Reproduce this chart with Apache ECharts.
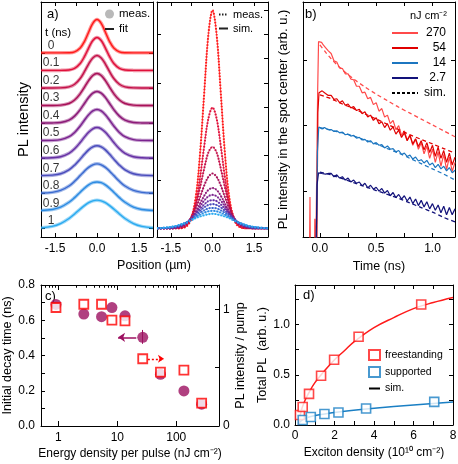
<!DOCTYPE html>
<html><head><meta charset="utf-8">
<script src="https://cdn.jsdelivr.net/npm/echarts@6/dist/echarts.min.js"></script>
<style>html,body{margin:0;padding:0;background:#fff}#c{width:458px;height:464px}</style>
</head><body><div id="c"></div>
<script>
// ---------- DATA ----------
// panel a: time labels, colours, half-profiles (|x| grid, units = baseline spacing)
const timeLabels = ['0','0.1','0.2','0.3','0.4','0.5','0.6','0.7','0.8','0.9','1'];
const curveColors = ['#ff1a1a','#e0103a','#c41048','#a81058','#8c1a78','#7a228e','#6630a4','#4a4cbc','#3a6ad0','#2a8ae2','#2aaaf0'];
const halfX = [0,0.15,0.3,0.45,0.6,0.8,1.0,1.3,1.6,2.0];
const fitA = [
 [1.90,1.685,1.174,0.644,0.277,0.062,0.009,0,0,0],
 [1.88,1.705,1.273,0.782,0.395,0.118,0.025,0.001,0,0],
 [1.85,1.713,1.360,0.925,0.540,0.207,0.060,0.006,0,0],
 [1.82,1.711,1.418,1.037,0.672,0.309,0.114,0.017,0.001,0],
 [1.80,1.706,1.453,1.112,0.765,0.393,0.167,0.032,0.004,0],
 [1.77,1.689,1.466,1.158,0.832,0.462,0.218,0.051,0.008,0],
 [1.74,1.669,1.472,1.194,0.889,0.529,0.270,0.075,0.015,0.001],
 [1.70,1.639,1.467,1.219,0.942,0.595,0.330,0.106,0.026,0.002],
 [1.67,1.618,1.470,1.254,1.004,0.676,0.406,0.154,0.045,0.006],
 [1.64,1.596,1.468,1.278,1.053,0.746,0.479,0.205,0.071,0.012],
 [1.60,1.562,1.454,1.291,1.094,0.814,0.557,0.269,0.107,0.023]
];
// panel a (right): unnormalised profiles
const simMid = [
 [4.50,3.99,2.78,1.53,0.66,0.15,0.02,0,0,0],
 [2.49,2.26,1.69,1.04,0.52,0.16,0.03,0,0,0],
 [1.68,1.56,1.23,0.84,0.49,0.19,0.05,0.01,0,0],
 [1.13,1.06,0.88,0.64,0.42,0.19,0.07,0.01,0,0],
 [0.83,0.79,0.67,0.51,0.35,0.18,0.08,0.01,0,0],
 [0.69,0.66,0.57,0.45,0.32,0.18,0.08,0.02,0,0],
 [0.58,0.56,0.49,0.40,0.30,0.18,0.09,0.02,0,0],
 [0.50,0.48,0.43,0.36,0.28,0.18,0.10,0.03,0.01,0],
 [0.42,0.41,0.37,0.32,0.25,0.17,0.10,0.04,0.01,0],
 [0.36,0.35,0.32,0.28,0.23,0.16,0.11,0.05,0.02,0],
 [0.30,0.29,0.27,0.24,0.21,0.15,0.10,0.05,0.02,0]
];
// panel b: log10 of PL intensity
const bGrid = [0.1,0.125,0.15,0.175,0.2,0.225,0.25,0.275,0.3,0.325,0.35,0.375,0.4,0.425,0.45,0.475,0.5,0.525,0.55,0.575,0.6,0.625,0.65,0.675,0.7,0.725,0.75,0.775,0.8,0.825,0.85,0.875,0.9,0.925,0.95,0.975,1.0,1.025,1.05,1.075,1.1,1.125,1.15,1.175,1.2];
const bLabels = ['270','54','14','2.7'];
const bColors = ['#ff4a4a','#e00000','#1c76c0','#12127a'];
const bRiseT = [
 [-0.15,-0.095,-0.088,-0.082,-0.05,-0.045,-0.04,-0.03,-0.02,-0.012,0.0,0.015,0.03,0.05,0.075],
 [-0.15,-0.03,-0.018,-0.008,0.005,0.02,0.035,0.05,0.075],
 [-0.15,-0.035,-0.022,-0.01,0.005,0.02,0.04,0.06,0.08],
 [-0.15,-0.04,-0.025,-0.012,0.0,0.015,0.03,0.05,0.075]
];
const bRiseL = [
 [-1.5,-1.5,-0.09,-1.5,-1.5,-0.42,-1.5,-1.5,1.5,2.28,2.30,2.27,2.23,2.19,2.14],
 [-1.5,-1.5,1.2,1.50,1.47,1.53,1.50,1.49,1.46],
 [-1.5,-1.5,0.6,0.98,0.99,0.95,0.97,0.95,0.94],
 [-1.5,-1.5,0.1,0.28,0.30,0.27,0.29,0.26,0.27]
];
const bMeasL = [
 [2.10,1.99,1.97,1.88,1.87,1.79,1.79,1.71,1.70,1.60,1.60,1.50,1.51,1.41,1.43,1.32,1.35,1.22,1.26,1.13,1.16,1.03,1.08,0.94,1.00,0.85,0.92,0.78,0.86,0.70,0.79,0.64,0.74,0.57,0.69,0.50,0.64,0.44,0.60,0.38,0.56,0.33,0.52,0.30,0.44],
 [1.46,1.40,1.41,1.35,1.38,1.31,1.33,1.27,1.29,1.23,1.25,1.18,1.21,1.13,1.16,1.08,1.12,1.03,1.06,0.97,1.03,0.93,0.98,0.87,0.93,0.82,0.89,0.77,0.85,0.72,0.80,0.68,0.77,0.63,0.74,0.59,0.70,0.53,0.67,0.50,0.62,0.44,0.58,0.40,0.52],
 [0.94,0.91,0.92,0.89,0.90,0.86,0.87,0.84,0.85,0.81,0.82,0.78,0.79,0.75,0.77,0.72,0.74,0.70,0.71,0.66,0.69,0.64,0.65,0.60,0.62,0.56,0.58,0.53,0.55,0.49,0.52,0.46,0.48,0.43,0.47,0.40,0.43,0.36,0.41,0.34,0.38,0.31,0.36,0.28,0.32],
 [0.27,0.22,0.25,0.20,0.22,0.17,0.20,0.14,0.17,0.12,0.14,0.08,0.12,0.05,0.09,0.03,0.06,0.00,0.04,-0.03,0.01,-0.07,-0.02,-0.10,-0.05,-0.12,-0.07,-0.15,-0.09,-0.19,-0.12,-0.22,-0.14,-0.24,-0.16,-0.27,-0.19,-0.29,-0.21,-0.33,-0.23,-0.36,-0.25,-0.36,-0.27]
];
const bSimT = [0,0.05,0.1,0.15,0.2,0.3,0.4,0.5,0.6,0.7,0.8,0.9,1.0,1.1,1.2];
const bSimL = [
 [2.23,2.12,2.02,1.93,1.85,1.71,1.59,1.48,1.38,1.28,1.19,1.10,1.01,0.92,0.83],
 [1.47,1.44,1.41,1.37,1.33,1.26,1.18,1.10,1.02,0.94,0.86,0.79,0.72,0.65,0.58],
 [0.97,0.95,0.93,0.91,0.89,0.84,0.78,0.72,0.65,0.58,0.50,0.42,0.34,0.26,0.17],
 [0.29,0.27,0.25,0.22,0.19,0.13,0.07,0.01,-0.05,-0.11,-0.18,-0.25,-0.32,-0.40,-0.47]
];
// panel c
const cEnergy = [0.91,2.7,5.4,8.1,13.5,27,54,135,270];
const cDecay  = [0.69,0.635,0.62,0.672,0.625,0.503,0.293,0.199,0.124];
const cPLpump = [1.017,1.045,1.045,0.908,0.902,0.577,0.463,0.48,0.197];
const cMajorLabels = [1,10,100];
const cMinorTicks = [0.6,0.7,0.8,0.9,2,3,4,5,6,7,8,9,20,30,40,50,60,70,80,90,200,300,400,500];
// panel d
const dFreeX = [0.25,0.39,0.71,1.32,1.98,3.22,6.39];
const dFreeY = [0.10,0.18,0.31,0.49,0.65,0.88,1.20];
const dSupX  = [0.39,0.8,1.49,2.2,3.6,7.05];
const dSupY  = [0.05,0.08,0.11,0.125,0.165,0.23];
const dSimFreeX = [0.18,0.3,0.45,0.7,1,1.5,2,2.5,3,4,5,6,7,8];
const dSimFreeY = [0,0.13,0.22,0.32,0.42,0.54,0.65,0.74,0.83,0.97,1.07,1.16,1.22,1.27];
const dSimSupX = [0.2,0.4,0.8,1.5,2.2,3.6,5,7,8];
const dSimSupY = [0.02,0.055,0.085,0.11,0.13,0.16,0.185,0.215,0.23];

// ---------- BUILD ----------
const FONT = '"Liberation Sans", Arial, Helvetica, sans-serif';
const posX = halfX.slice(1).reverse().map(v => -v).concat(halfX);
const mirror = h => h.slice(1).reverse().concat(h);

function ax(o) {
  const b = {
    type: 'value', nameLocation: 'middle',
    axisLine: {show: true, onZero: false, lineStyle: {color: '#000', width: 1}},
    axisTick: {show: true, inside: true, length: 4, lineStyle: {color: '#000', width: 1}},
    axisLabel: {show: false, color: '#000', fontSize: 12, fontFamily: FONT},
    splitLine: {show: false},
    nameTextStyle: {color: '#000', fontFamily: FONT, fontSize: 12.5}
  };
  for (const k in o) {
    if (o[k] && typeof o[k] === 'object' && !Array.isArray(o[k]) && b[k]) b[k] = Object.assign({}, b[k], o[k]);
    else b[k] = o[k];
  }
  return b;
}
const fix1 = v => Number(v).toFixed(1);
const aTicks = [-1.5,-0.75,0,0.75,1.5];

const xAxis = [
  ax({gridIndex:0, min:-2, max:2, axisLabel:{show:true, margin:6, customValues:[-1.5,0,1.5], formatter:fix1}, axisTick:{customValues:aTicks}}),
  ax({gridIndex:0, position:'top', min:-2, max:2, axisTick:{customValues:aTicks}}),
  ax({gridIndex:1, min:-2, max:2, axisLabel:{show:true, margin:6, customValues:[-1.5,0,1.5], formatter:fix1}, axisTick:{customValues:aTicks}}),
  ax({gridIndex:1, position:'top', min:-2, max:2, axisTick:{customValues:aTicks}}),
  ax({gridIndex:2, min:-0.15, max:1.2, name:'Time (ns)', nameGap:21, axisLabel:{show:true, margin:6, customValues:[0,0.5,1], formatter:fix1}, axisTick:{customValues:[0,0.25,0.5,0.75,1]}}),
  ax({gridIndex:2, position:'top', min:-0.15, max:1.2, axisTick:{customValues:[0,0.25,0.5,0.75,1]}}),
  ax({gridIndex:3, type:'log', logBase:10, min:0.507, max:532, name:'Energy density per pulse (nJ cm⁻²)', nameGap:22, nameTextStyle:{fontSize:12},
      axisLabel:{show:true, margin:6, formatter: v => (cMajorLabels.indexOf(Math.round(v)) >= 0 && Math.abs(v - Math.round(v)) < 1e-6) ? String(Math.round(v)) : ''}, axisTick:{length:5}}),
  ax({gridIndex:3, min:Math.log10(0.507), max:Math.log10(532), axisLine:{show:false}, axisTick:{length:2.5, customValues:cMinorTicks.map(Math.log10)}}),
  ax({gridIndex:3, type:'log', logBase:10, position:'top', min:0.507, max:532, axisTick:{length:5}}),
  ax({gridIndex:3, position:'top', min:Math.log10(0.507), max:Math.log10(532), axisLine:{show:false}, axisTick:{length:2.5, customValues:cMinorTicks.map(Math.log10)}}),
  ax({gridIndex:4, min:0, max:8, name:'Exciton density (10¹⁰ cm⁻²)', nameGap:22, nameTextStyle:{fontSize:12}, axisLabel:{show:true, margin:5, customValues:[0,2,4,6,8]}, axisTick:{customValues:[0,1,2,3,4,5,6,7,8]}}),
  ax({gridIndex:4, position:'top', min:0, max:8, axisTick:{customValues:[0,1,2,3,4,5,6,7,8]}})
];
const yAxis = [
  ax({gridIndex:0, min:-0.5, max:12.9, name:'PL intensity', nameGap:10, nameTextStyle:{fontSize:14.5}, axisTick:{customValues:[0,1,2,3,4,5,6,7,8,9,10]}}),
  ax({gridIndex:0, position:'right', min:-0.5, max:12.9, axisTick:{customValues:[0,1,2,3,4,5,6,7,8,9,10]}}),
  ax({gridIndex:1, min:-0.18, max:4.67, axisTick:{customValues:[0,1,2,3,4]}}),
  ax({gridIndex:1, position:'right', min:-0.18, max:4.67, axisTick:{customValues:[0,0.5,1,1.5,2,2.5,3,3.5,4,4.5]}}),
  ax({gridIndex:2, type:'log', logBase:10, min:0.2, max:768, name:'PL intensity in the spot center (arb. u.)', nameGap:13, nameTextStyle:{fontSize:13}}),
  ax({gridIndex:2, type:'log', logBase:10, position:'right', min:0.2, max:768}),
  ax({gridIndex:3, min:0, max:0.8, name:'Initial decay time (ns)', nameGap:27, axisLabel:{show:true, margin:6, customValues:[0,0.2,0.4,0.6,0.8], formatter:fix1}, axisTick:{customValues:[0,0.1,0.2,0.3,0.4,0.5,0.6,0.7,0.8]}}),
  ax({gridIndex:3, position:'right', min:0, max:1.21, name:'PL intensity / pump', nameGap:5, axisLabel:{show:true, margin:4, customValues:[0,1]}, axisTick:{customValues:[0,0.5,1]}}),
  ax({gridIndex:4, min:0, max:1.395, name:'Total PL  (arb. u.)', nameGap:22, axisLabel:{show:true, margin:5, customValues:[0,0.5,1], formatter:fix1}, axisTick:{customValues:[0,0.25,0.5,0.75,1,1.25]}}),
  ax({gridIndex:4, position:'right', min:0, max:1.395, axisTick:{customValues:[0,0.25,0.5,0.75,1,1.25]}})
];

const series = [];
// panel a left
fitA.forEach((h, i) => {
  const off = 10 - i;
  const prof = mirror(h);
  const data = posX.map((x, k) => [x, off + prof[k]]);
  series.push({type:'line', xAxisIndex:0, yAxisIndex:0, data, smooth:0.35, symbol:'none', silent:true,
    lineStyle:{color:curveColors[i], width:3.5, opacity:0.45}, z:2});
  series.push({type:'line', xAxisIndex:0, yAxisIndex:0, data, smooth:0.35, symbol:'none', silent:true,
    lineStyle:{color:curveColors[i], width:1.4}, z:3});
});
series.push({type:'scatter', xAxisIndex:0, yAxisIndex:0, symbolSize:0, silent:true,
  data: timeLabels.map((t, i) => ({name:t, value:[-1.64, 10 - i + 0.42]})),
  label:{show:true, position:'inside', formatter:'{b}', color:'#000', fontSize:12, fontFamily:FONT}});
series.push({name:'meas.', type:'scatter', xAxisIndex:0, yAxisIndex:0, data:[], symbolSize:9, itemStyle:{color:'#a8a8a8'}});
series.push({name:'fit', type:'line', xAxisIndex:0, yAxisIndex:0, data:[], symbol:'none', lineStyle:{color:'#222', width:2}, itemStyle:{color:'#222'}});
// panel a right
simMid.forEach((h, i) => {
  const prof = mirror(h);
  const data = posX.map((x, k) => [x, prof[k]]);
  series.push({type:'line', xAxisIndex:2, yAxisIndex:2, data, smooth:0.35, symbol:'none', silent:true,
    lineStyle:{color:curveColors[i], width:1, opacity:0.8}, z:2});
  series.push({type:'line', xAxisIndex:2, yAxisIndex:2, data, smooth:0.35, symbol:'none', silent:true,
    lineStyle:{color:curveColors[i], width:2, type:[1.5,1.5]}, z:3});
});
series.push({name:'meas. ', type:'line', xAxisIndex:2, yAxisIndex:2, data:[], symbol:'none', lineStyle:{color:'#222', width:1.5, type:[1.5,1.5]}, itemStyle:{color:'#222'}});
series.push({name:'sim.', type:'line', xAxisIndex:2, yAxisIndex:2, data:[], symbol:'none', lineStyle:{color:'#222', width:1.5}, itemStyle:{color:'#222'}});
// panel b
bLabels.forEach((lab, i) => {
  const t = bRiseT[i].concat(bGrid);
  const L = bRiseL[i].concat(bMeasL[i]);
  series.push({name:lab, type:'line', xAxisIndex:4, yAxisIndex:4, symbol:'none', clip:true,
    data: t.map((x, k) => [x, Math.pow(10, L[k])]),
    lineStyle:{color:bColors[i], width:1.2}, itemStyle:{color:bColors[i]}, z:2});
  series.push({type:'line', xAxisIndex:4, yAxisIndex:4, symbol:'none', clip:true, silent:true, smooth:0.3,
    data: bSimT.map((x, k) => [x, Math.pow(10, bSimL[i][k])]),
    lineStyle:{color:bColors[i], width:1.3, type:[4,3]}, z:3});
});
series.push({name:'sim. ', type:'line', xAxisIndex:4, yAxisIndex:4, data:[], symbol:'none', lineStyle:{color:'#000', width:1, type:[3,2]}, itemStyle:{color:'#000'}});
// panel c
series.push({type:'scatter', xAxisIndex:6, yAxisIndex:6, symbol:'circle', symbolSize:11,
  data: cEnergy.map((e, i) => [e, cDecay[i]]), itemStyle:{color:'#9c1060'}, z:3,
  markLine:{silent:true, animation:false, label:{show:false}, symbol:['none','arrow'], symbolSize:7,
    lineStyle:{color:'#9c1060', width:1.5, type:'solid'},
    data:[
      [{coord:[21, 0.503]}, {coord:[10.3, 0.503]}],
      [{coord:[27, 0.545], symbol:'none'}, {coord:[27, 0.466], symbol:'none', lineStyle:{width:1}}]
    ]}});
series.push({type:'scatter', xAxisIndex:6, yAxisIndex:7, symbol:'rect', symbolSize:9,
  data: cEnergy.map((e, i) => [e, cPLpump[i]]), itemStyle:{color:'#fff', borderColor:'#ff0000', borderWidth:1.8}, z:4,
  markLine:{silent:true, animation:false, label:{show:false}, symbol:['none','arrow'], symbolSize:6,
    lineStyle:{color:'#ff0000', width:1.3, type:[2,2]},
    data:[[{coord:[33, 0.577]}, {coord:[62, 0.577]}]]}});
// panel d
series.push({type:'line', xAxisIndex:10, yAxisIndex:8, symbol:'none', smooth:0.4, silent:true,
  data: dSimFreeX.map((x, i) => [x, dSimFreeY[i]]), lineStyle:{color:'#ff1a1a', width:1.5}, z:2});
series.push({type:'line', xAxisIndex:10, yAxisIndex:8, symbol:'none', smooth:0.4, silent:true,
  data: dSimSupX.map((x, i) => [x, dSimSupY[i]]), lineStyle:{color:'#1a7fc4', width:1.5}, z:2});
series.push({name:'freestanding', type:'scatter', xAxisIndex:10, yAxisIndex:8, symbol:'rect', symbolSize:9,
  data: dFreeX.map((x, i) => [x, dFreeY[i]]), itemStyle:{color:'#fff', borderColor:'#ff1a1a', borderWidth:1.6}, z:4});
series.push({name:'supported', type:'scatter', xAxisIndex:10, yAxisIndex:8, symbol:'rect', symbolSize:9,
  data: dSupX.map((x, i) => [x, dSupY[i]]), itemStyle:{color:'#fff', borderColor:'#1a7fc4', borderWidth:1.6}, z:4});
series.push({name:'sim.  ', type:'line', xAxisIndex:10, yAxisIndex:8, data:[], symbol:'none', lineStyle:{color:'#000', width:2}, itemStyle:{color:'#000'}});

const legTxt = {color:'#000', fontFamily:FONT, fontSize:11.5};
const noSym = {opacity: 0};
const option = {
  animation: false,
  backgroundColor: '#fff',
  textStyle: {fontFamily: FONT},
  grid: [
    {left:41, top:2, width:112, height:235, outerBoundsMode:'none', containLabel:false},
    {left:157, top:2, width:111, height:235, outerBoundsMode:'none', containLabel:false},
    {left:303, top:2, width:152, height:235, outerBoundsMode:'none', containLabel:false},
    {left:41, top:285, width:178, height:141, outerBoundsMode:'none', containLabel:false},
    {left:295, top:285, width:158, height:140, outerBoundsMode:'none', containLabel:false}
  ],
  xAxis, yAxis, series,
  legend: [
    {data:['meas.', {name:'fit', itemStyle:noSym}], left:104, top:8, orient:'vertical', itemWidth:9, itemHeight:9, itemGap:3, padding:0,
      selectedMode:false, textStyle:legTxt, formatter:n => n.trim()},
    {data:[{name:'meas. ', itemStyle:noSym}, {name:'sim.', itemStyle:noSym}], left:218, top:9, orient:'vertical', itemWidth:9, itemHeight:9, itemGap:3, padding:0,
      selectedMode:false, textStyle:{color:'#000', fontFamily:FONT, fontSize:11}, formatter:n => n.trim()},
    {data:['270','54','14','2.7','sim. '].map(n => ({name:n, itemStyle:noSym})), left:391, top:27, orient:'vertical', itemWidth:26, itemHeight:10, itemGap:3, padding:0,
      selectedMode:false, textStyle:{rich:{r:{width:23, align:'right', fontSize:12, fontFamily:FONT, color:'#000'}}},
      formatter:n => '{r|' + n.trim() + '}'},
    {data:['freestanding','supported', {name:'sim.  ', itemStyle:noSym}], left:368, top:349, orient:'vertical', itemWidth:11, itemHeight:10, itemGap:5, padding:0,
      selectedMode:false, textStyle:{color:'#000', fontFamily:FONT, fontSize:10.5}, formatter:n => n.trim()}
  ],
  graphic: [
    {type:'text', x:47, y:8, style:{text:'a)', fontSize:13, fontFamily:FONT, fill:'#000'}},
    {type:'text', x:45, y:27, style:{text:'t (ns)', fontSize:11.5, fontFamily:FONT, fill:'#000'}},
    {type:'text', x:305, y:8, style:{text:'b)', fontSize:13, fontFamily:FONT, fill:'#000'}},
    {type:'text', x:45, y:290, style:{text:'c)', fontSize:13, fontFamily:FONT, fill:'#000'}},
    {type:'text', x:303, y:289, style:{text:'d)', fontSize:13, fontFamily:FONT, fill:'#000'}},
    {type:'text', x:154, y:266, style:{text:'Position (µm)', align:'center', verticalAlign:'middle', fontSize:12.5, fontFamily:FONT, fill:'#000'}},
    {type:'text', x:410, y:10, style:{text:'nJ cm⁻²', fontSize:11, fontFamily:FONT, fill:'#000'}}
  ]
};
const chart = echarts.init(document.getElementById('c'));
chart.setOption(option);
</script></body></html>
